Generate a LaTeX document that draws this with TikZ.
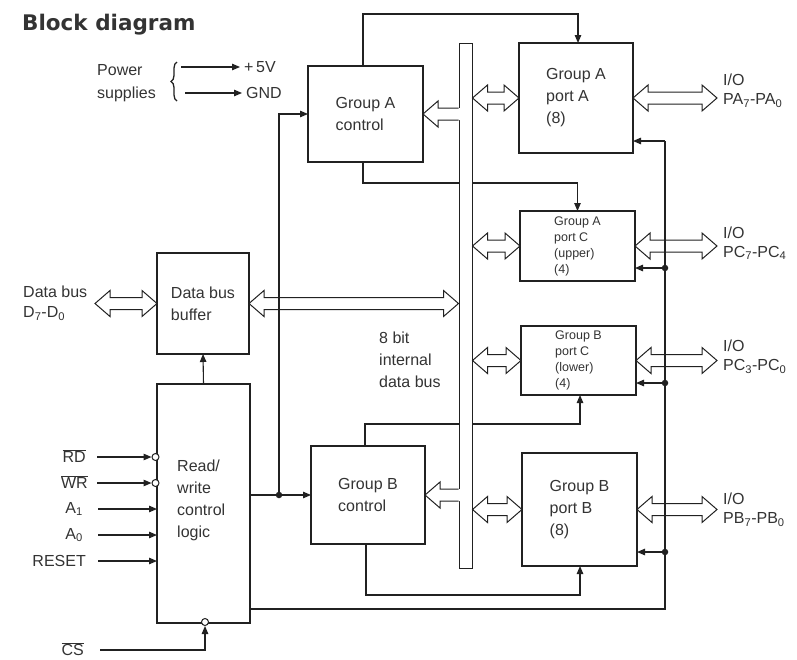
\documentclass[tikz,border=0pt]{standalone}
\usepackage{fontspec}
\setmainfont{Liberation Sans}
\newfontfamily\titlefam{DejaVu Sans}
\usetikzlibrary{arrows.meta,calc,decorations.pathreplacing}
\definecolor{lc}{gray}{0.13}
\definecolor{tc}{gray}{0.2}
\newcommand\bodyfs{\fontsize{16}{22}\selectfont}
\newcommand\smallfs{\fontsize{12.5}{16}\selectfont}
\tikzset{
  box/.style={draw=lc, line width=1.2pt, inner sep=0pt, outer sep=0pt, font=\bodyfs, align=left, text=tc},
  smallbox/.style={box, font=\smallfs},
  ln/.style={draw=lc, line width=1.1pt},
  arr/.style={ln, -{Triangle[length=8pt,width=6.5pt]}},
  jdot/.style={circle, fill=lc, inner sep=0pt, minimum size=6.5pt},
  bub/.style={circle, draw=lc, fill=white, line width=1pt, inner sep=0pt, minimum size=7pt},
  hol/.style={draw=lc, line width=1pt, fill=white, line join=miter},
  lbl/.style={font=\bodyfs, text=tc, align=left, inner sep=0pt},
}
% double hollow arrow, left point #1, right point #2 (same height)
\newcommand\dblbus[2]{%
  \draw[hol] let \p1=#1, \p2=#2 in
    (\x1,\y1) -- (\x1+15pt,\y1+13pt) -- (\x1+15pt,\y1+6pt) -- (\x2-15pt,\y1+6pt)
    -- (\x2-15pt,\y1+13pt) -- (\x2,\y1) -- (\x2-15pt,\y1-13pt) -- (\x2-15pt,\y1-6pt)
    -- (\x1+15pt,\y1-6pt) -- (\x1+15pt,\y1-13pt) -- cycle;}
% single hollow arrow, tip #1 (left), tail on bus edge #2 (right)
\newcommand\sglbus[2]{%
  \fill[white] let \p1=#1, \p2=#2 in
    (\x1,\y1) -- (\x1+15pt,\y1+13pt) -- (\x1+15pt,\y1+6pt) -- (\x2+1.5pt,\y1+6pt)
    -- (\x2+1.5pt,\y1-6pt) -- (\x1+15pt,\y1-6pt) -- (\x1+15pt,\y1-13pt) -- cycle;
  \draw[hol] let \p1=#1, \p2=#2 in
    (\x2,\y1+6pt) -- (\x1+15pt,\y1+6pt) -- (\x1+15pt,\y1+13pt) -- (\x1,\y1)
    -- (\x1+15pt,\y1-13pt) -- (\x1+15pt,\y1-6pt) -- (\x2,\y1-6pt);}
\begin{document}
\begin{tikzpicture}[x=1pt,y=-1pt]
\useasboundingbox (0,0) rectangle (797,659);

% title
\node[font=\titlefam\bfseries\fontsize{21.5}{24}\selectfont, text=tc, anchor=base west, inner sep=0pt] (title) at (22,30) {Block diagram};

% boxes
\node[box, minimum width=115pt, minimum height=96pt] (gac) at (365.5,114) {Group A\\control};
\node[box, minimum width=114pt, minimum height=110pt] (pa) at (576,98) {Group A\\port A\\(8)};
\node[smallbox, minimum width=115pt, minimum height=70pt] (pcu) at (577.5,246) {Group A\\port C\\(upper)\\(4)};
\node[smallbox, minimum width=115pt, minimum height=69pt] (pcl) at (578.5,360.5) {Group B\\port C\\(lower)\\(4)};
\node[box, minimum width=115pt, minimum height=113pt] (pb) at (579.5,509.5) {Group B\\port B\\(8)};
\node[box, minimum width=114pt, minimum height=98pt] (gbc) at (368,495) {Group B\\control};
\node[box, minimum width=92pt, minimum height=101pt] (dbb) at (203,303.5) {Data bus\\buffer};
\node[box, minimum width=93pt, minimum height=239pt] (rw) at (203.5,503.5) {};
\node[lbl, anchor=west] (rwt) at (177,500) {Read/\\write\\control\\logic};

% lines that run behind the internal bus
\coordinate (t2) at (363,183);
\draw[arr] (gac.south -| t2) -- (t2) -| (pcu.north);
\coordinate (t3) at (365,424);
\draw[arr] (gbc.north -| t3) -- (t3) -| ([xshift=1.5pt]pcl.south);

% internal bus
\node[draw=lc, fill=white, line width=1pt, minimum width=13pt, minimum height=525pt, inner sep=0pt] (bus) at (465.5,305.5) {};
\node[lbl, anchor=west] (ibl) at (379,360) {8 bit\\internal\\data bus};

% other control lines
\coordinate (t1) at (363,14);
\draw[arr] (gac.north -| t1) -- (t1) -| ([xshift=2pt]pa.north);
\coordinate (t4) at (366,595);
\draw[arr] (gbc.south -| t4) -- (t4) -| ([xshift=0.5pt]pb.south);
\draw[arr] (rw.north) -- (dbb.south);

% hollow bus arrows
\coordinate (dbl) at (95,303.5);
\dblbus{(dbl)}{(dbb.west)}
\dblbus{(dbb.east)}{(bus.west |- dbb.east)}
\sglbus{(gac.east)}{(bus.west |- gac.east)}
\sglbus{(gbc.east)}{(bus.west |- gbc.east)}
\dblbus{(bus.east |- pa.west)}{(pa.west)}
\dblbus{(bus.east |- pcu.west)}{(pcu.west)}
\dblbus{(bus.east |- pcl.west)}{(pcl.west)}
\dblbus{(bus.east |- pb.west)}{(pb.west)}
\coordinate (io1) at (717,98);
\coordinate (io2) at (717,246);
\coordinate (io3) at (717,360.5);
\coordinate (io4) at (717,509.5);
\dblbus{(pa.east)}{(io1)}
\dblbus{(pcu.east)}{(io2)}
\dblbus{(pcl.east)}{(io3)}
\dblbus{(pb.east)}{(io4)}

% I/O labels
\node[lbl, anchor=west, font=\fontsize{16}{19}\selectfont] (lio1) at (723,91) {I/O\\PA\textsubscript{7}-PA\textsubscript{0}};
\node[lbl, anchor=west, font=\fontsize{16}{19}\selectfont] (lio2) at (723,243) {I/O\\PC\textsubscript{7}-PC\textsubscript{4}};
\node[lbl, anchor=west, font=\fontsize{16}{19}\selectfont] (lio3) at (723,357) {I/O\\PC\textsubscript{3}-PC\textsubscript{0}};
\node[lbl, anchor=west, font=\fontsize{16}{19}\selectfont] (lio4) at (723,510) {I/O\\PB\textsubscript{7}-PB\textsubscript{0}};
\node[lbl, anchor=west, font=\fontsize{16}{20}\selectfont] (ldb) at (23,303) {Data bus\\D\textsubscript{7}-D\textsubscript{0}};

% control lines from read/write logic
\coordinate (j1) at (279,495);
\draw[ln] (rw.east |- j1) -- (j1);
\draw[arr] (j1) -- (gbc.west);
\draw[arr] (j1) |- (gac.west);
\node[jdot] (dj1) at (j1) {};

\coordinate (r1) at (665,609);
\coordinate (r2) at (665,141);
\draw[ln] (rw.east |- r1) -- (r1) -- (r2);
\draw[arr] (r2) -- (pa.east |- r2);
\node[jdot] (d2) at (665,268) {};
\node[jdot] (d3) at (665,383) {};
\node[jdot] (d4) at (665,552) {};
\draw[arr] (d2) -- (pcu.east |- d2);
\draw[arr] (d3) -- (pcl.east |- d3);
\draw[arr] (d4) -- (pb.east |- d4);

% input signals
\node[lbl, anchor=east] (lrd) at (86,456) {$\overline{\hbox{RD}}$};
\node[lbl, anchor=east] (lwr) at (88,482) {$\overline{\hbox{WR}}$};
\node[lbl, anchor=east] (la1) at (83,509) {A\textsubscript{1}};
\node[lbl, anchor=east] (la0) at (83,535) {A\textsubscript{0}};
\node[lbl, anchor=east] (lrs) at (86,561) {RESET};
\node[bub] (brd) at (155.5,457) {};
\node[bub] (bwr) at (155.5,483) {};
\coordinate (srd) at (97,457);
\coordinate (swr) at (97,483);
\coordinate (sa1) at (98,509);
\coordinate (sa0) at (98,535);
\coordinate (srs) at (98,561);
\draw[arr] (srd) -- (brd.west);
\draw[arr] (swr) -- (bwr.west);
\draw[arr] (sa1) -- (rw.west |- sa1);
\draw[arr] (sa0) -- (rw.west |- sa0);
\draw[arr] (srs) -- (rw.west |- srs);

\node[lbl, anchor=east] (lcs) at (84,649) {$\overline{\hbox{CS}}$};
\coordinate (scs) at (100,650);
\node[bub] (bcs) at (205,622) {};
\draw[arr] (scs) -| (bcs.south);

% power supplies
\node[lbl, anchor=west, font=\fontsize{16}{23}\selectfont] (lpow) at (97,83) {Power\\supplies};
\draw[ln, line width=1.3pt, decorate, decoration={brace, amplitude=6pt}] (177,101) -- (177,62);
\coordinate (s5) at (181,67);
\coordinate (sg) at (185,93);
\node[lbl, anchor=west, inner xsep=4pt] (p5) at (240,67) {+\,5V};
\node[lbl, anchor=west, inner xsep=4pt] (gnd) at (242,93) {GND};
\draw[arr] (s5) -- (p5.west);
\draw[arr] (sg) -- (gnd.west);
\end{tikzpicture}
\end{document}
